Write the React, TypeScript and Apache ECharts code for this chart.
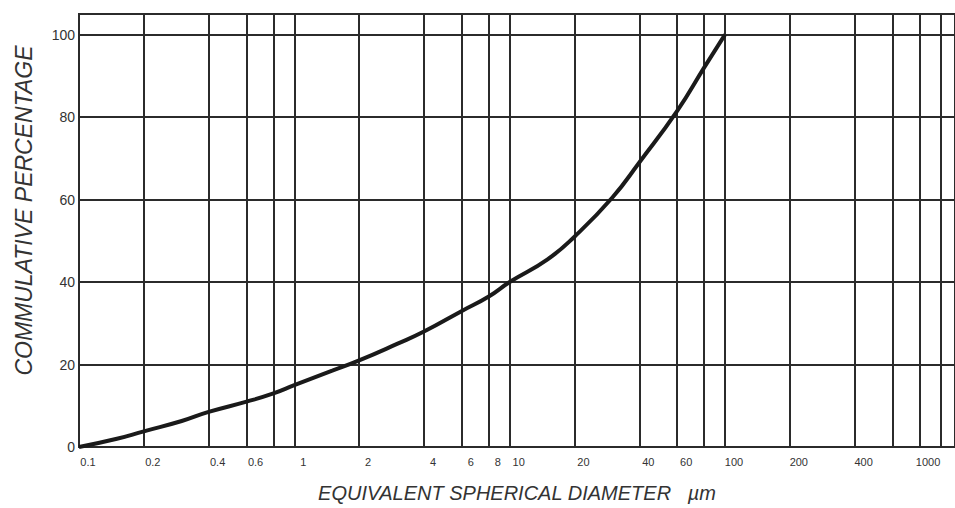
import React, { useEffect, useRef } from "react";
import * as echarts from "echarts";

// Grid lines of the graph paper (µm)
const xGridValues = [0.1, 0.2, 0.4, 0.6, 0.8, 1, 2, 4, 6, 8, 10, 20, 40, 60, 80, 100, 200, 400, 600, 800, 1000];
// Labelled diameters (µm)
const xLabelValues = [0.1, 0.2, 0.4, 0.6, 1, 2, 4, 6, 8, 10, 20, 40, 60, 100, 200, 400, 1000];
// Cumulative curve: equivalent spherical diameter (µm) vs cumulative percentage
const diameters = [0.1, 0.15, 0.2, 0.3, 0.4, 0.6, 0.8, 1, 1.5, 2, 3, 4, 6, 8, 10, 15, 20, 30, 40, 60, 80, 100];
const cumulative = [0, 2, 3.8, 6.3, 8.5, 11, 13, 15, 18.5, 21, 25, 28, 33, 36.5, 40, 45.5, 51, 60.5, 69, 81.5, 92, 100];
const yTicks = [0, 20, 40, 60, 80, 100];

export default function App() {
  const ref = useRef<HTMLDivElement>(null);
  useEffect(() => {
    if (!ref.current) return;
    const chart = echarts.init(ref.current, null, { renderer: "svg" });
    const ink = "#2b2b2b";
    const font = "Liberation Sans, Arial, sans-serif";
    chart.setOption({
      animation: false,
      backgroundColor: "#ffffff",
      grid: {
        left: 79,
        right: 0,
        top: 14,
        bottom: 61,
        outerBoundsMode: "none",
        containLabel: false,
        show: true,
        borderColor: ink,
        borderWidth: 2,
        backgroundColor: "transparent",
      },
      xAxis: {
        type: "log",
        logBase: 10,
        min: 0.1,
        max: 1170,
        name: "EQUIVALENT SPHERICAL DIAMETER   µm",
        nameLocation: "middle",
        nameGap: 36,
        nameTextStyle: {
          fontFamily: font,
          fontStyle: "italic",
          fontSize: 20,
          color: "#333",
        },
        axisLine: { show: false },
        axisTick: { show: false, customValues: xGridValues },
        axisLabel: {
          customValues: xLabelValues,
          fontFamily: font,
          fontSize: 11,
          color: "#333",
          margin: 9,
          padding: [0, 0, 0, 18],
          alignMaxLabel: "right",
          formatter: (v: number) => String(v),
        },
        splitLine: { show: true, lineStyle: { color: ink, width: 2 } },
        minorSplitLine: { show: false },
      },
      yAxis: {
        type: "value",
        min: 0,
        max: 105,
        interval: 20,
        name: "COMMULATIVE PERCENTAGE",
        nameLocation: "middle",
        nameGap: 44,
        nameTextStyle: {
          fontFamily: font,
          fontStyle: "italic",
          fontSize: 23,
          color: "#333",
          padding: [0, 0, 0, 40],
        },
        axisLine: { show: false },
        axisTick: { show: false },
        axisLabel: {
          customValues: yTicks,
          fontFamily: font,
          fontSize: 14,
          color: "#333",
          margin: 4,
        },
        splitLine: { show: true, lineStyle: { color: ink, width: 2 } },
      },
      series: [
        {
          type: "line",
          data: diameters.map((d, i) => [d, cumulative[i]]),
          smooth: true,
          showSymbol: false,
          lineStyle: { color: "#1a1a1a", width: 4 },
        },
      ],
    });
    return () => chart.dispose();
  }, []);
  return (
    <div
      ref={ref}
      style={{ position: "fixed", left: 0, top: 0, width: 955, height: 508 }}
    />
  );
}
